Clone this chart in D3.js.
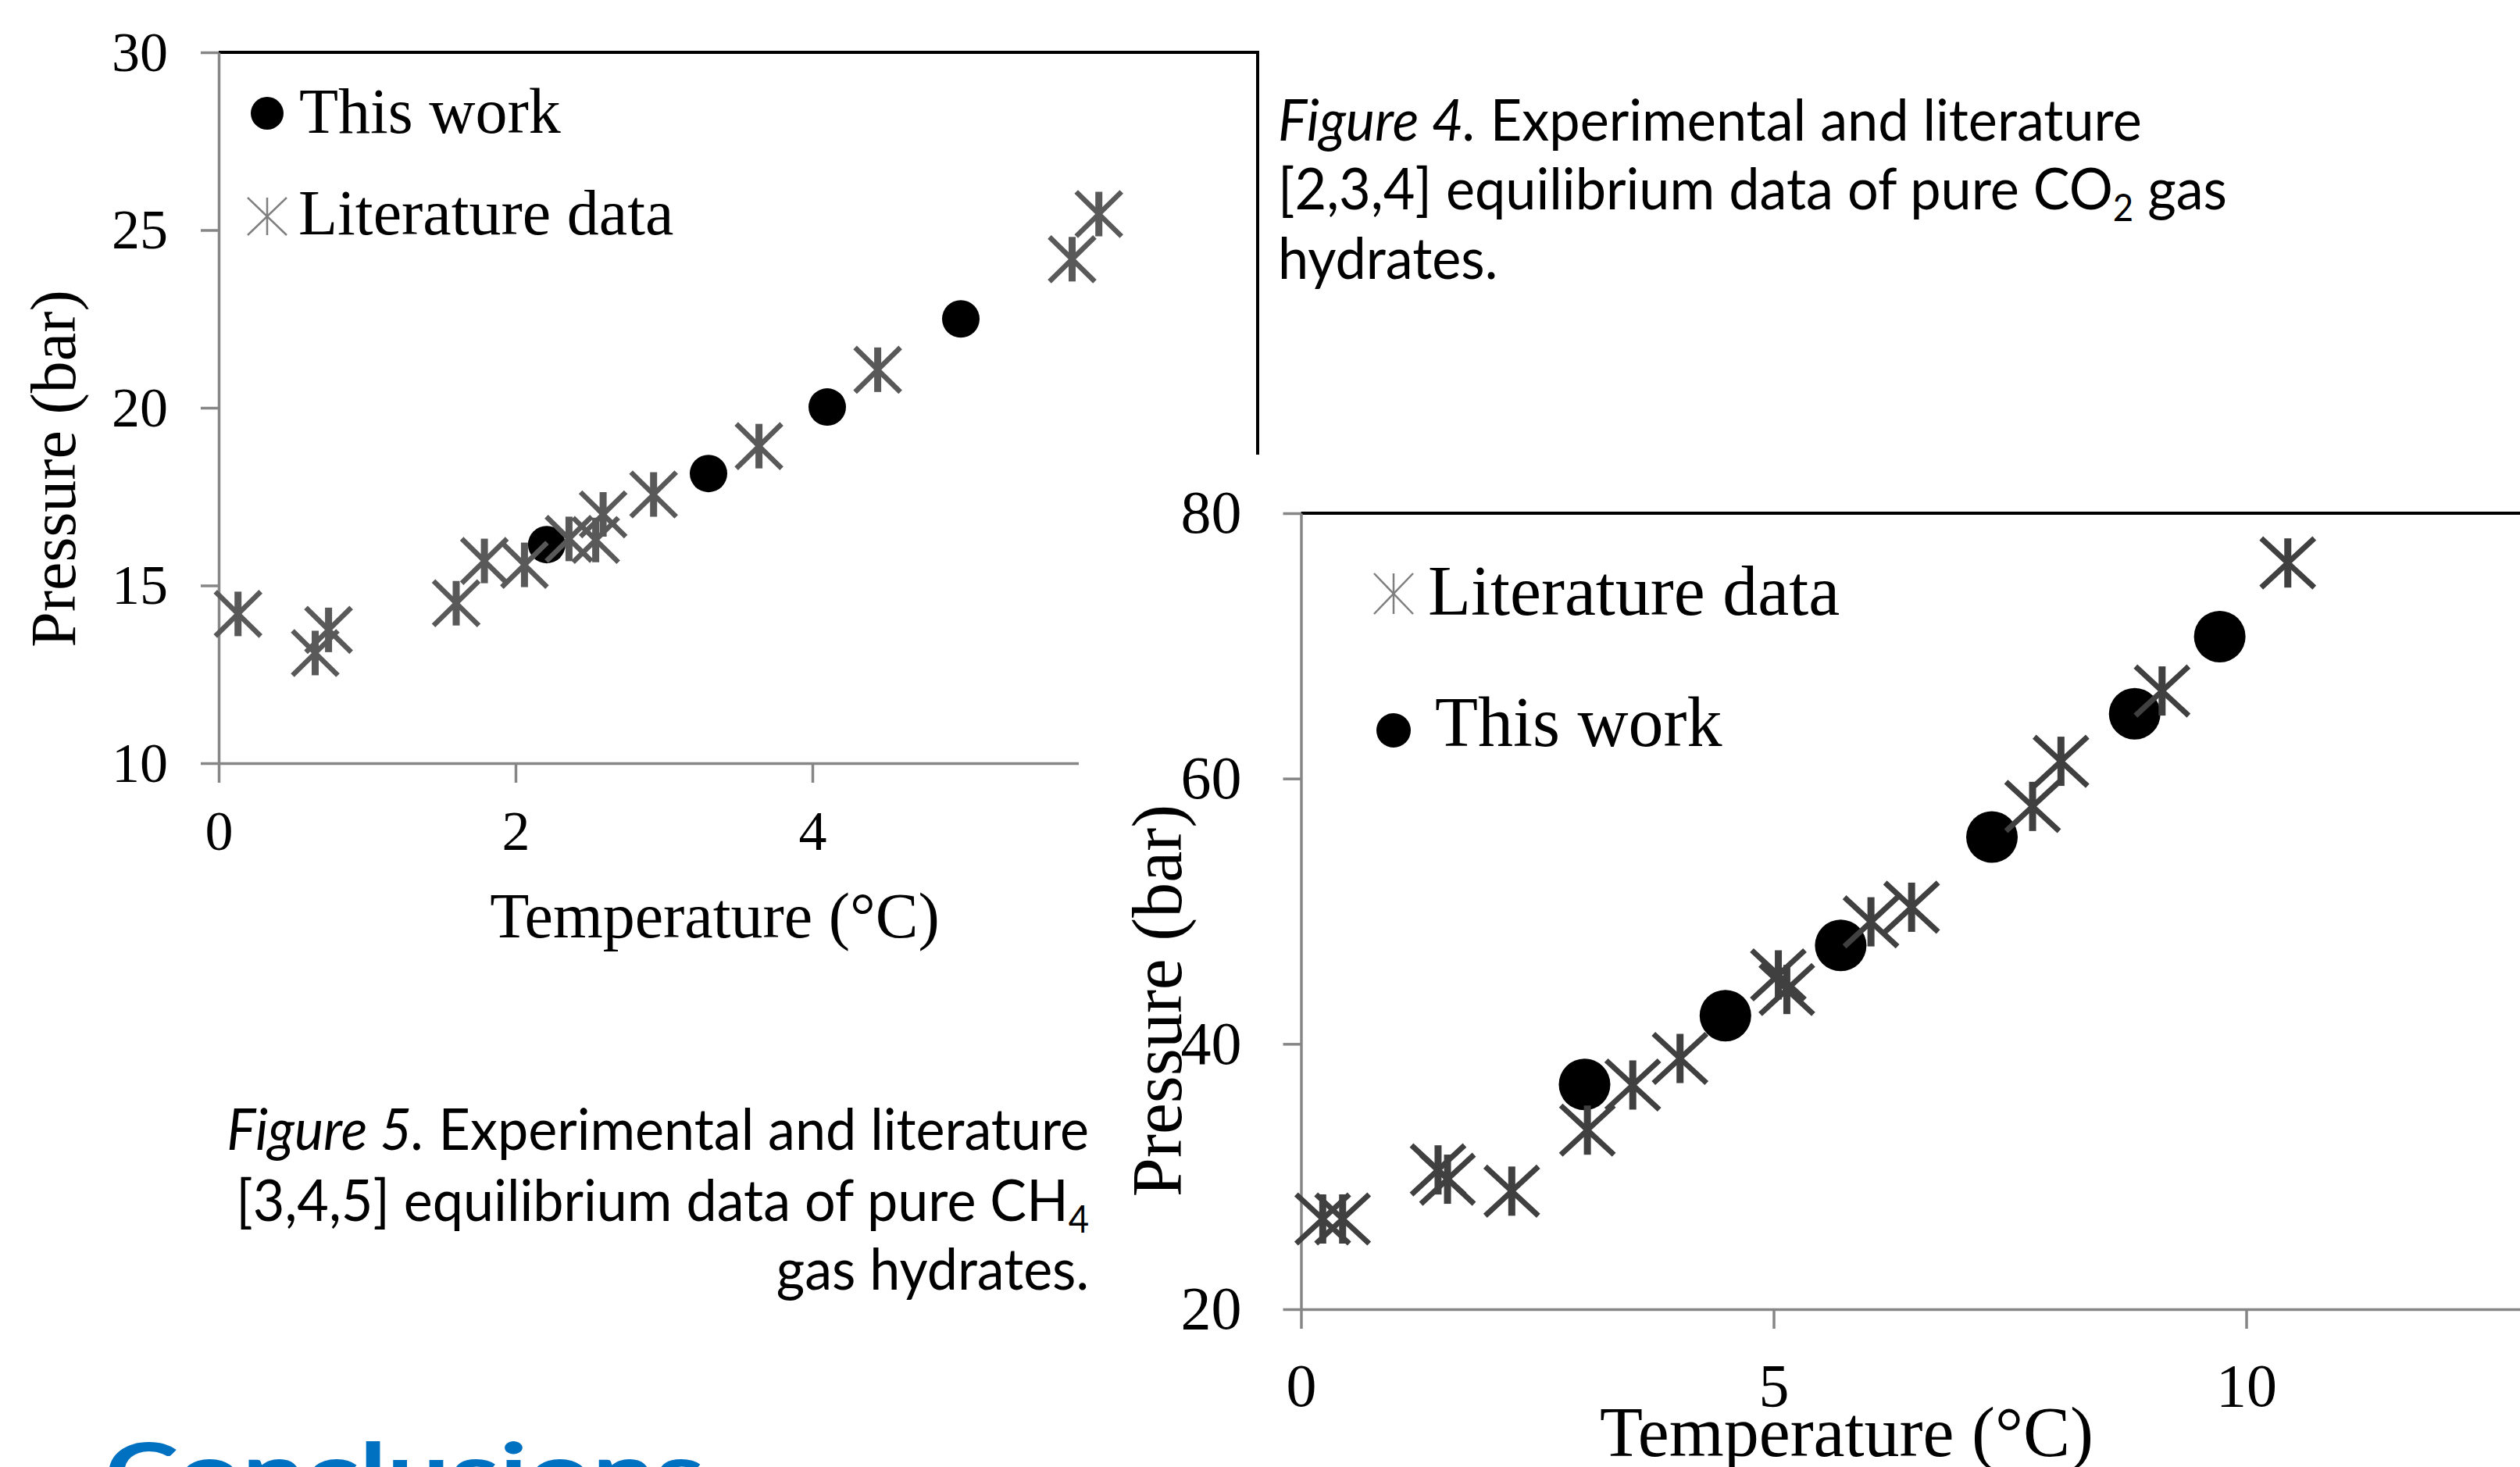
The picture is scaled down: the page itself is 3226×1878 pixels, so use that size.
<!DOCTYPE html>
<html>
<head>
<meta charset="utf-8">
<script src="https://cdn.jsdelivr.net/npm/d3@7"></script>
<style>
body{margin:0;background:#fff}
svg text{font-family:"Liberation Serif","Times New Roman",serif}
</style>
</head>
<body>
<svg id="page" width="3226" height="1878"></svg>
<script>
// Figure 5 - pure CH4 hydrates
var ch4WorkT = [2.21, 3.30, 4.10, 5.00];
var ch4WorkP = [16.15, 18.15, 20.02, 22.5];
var ch4LitT = [0.13, 0.65, 0.74, 1.60, 1.79, 2.06, 2.36, 2.54, 2.59, 2.93, 3.64, 4.44, 5.75, 5.93];
var ch4LitP = [14.2, 13.1, 13.75, 14.5, 15.69, 15.58, 16.31, 16.28, 17.0, 17.56, 18.92, 21.07, 24.18, 25.45];
var ch4XTicks = [0, 2, 4, 6];
var ch4YTicks = [10, 15, 20, 25, 30];

// Figure 4 - pure CO2 hydrates
var co2WorkT = [3.00, 4.49, 5.71, 7.31, 8.82, 9.72];
var co2WorkP = [36.94, 42.13, 47.42, 55.59, 64.88, 70.7];
var co2LitT = [0.23, 0.44, 1.45, 1.55, 2.23, 3.03, 3.51, 4.01, 5.05, 5.14, 6.03, 6.46, 7.74, 8.04, 9.11, 10.44];
var co2LitP = [26.8, 26.8, 30.5, 29.8, 28.9, 33.5, 36.9, 38.9, 45.2, 44.1, 49.2, 50.3, 57.9, 61.3, 66.6, 76.25];
var co2XTicks = [0, 5, 10, 15];
var co2YTicks = [20, 40, 60, 80];

var labelWork = "This work", labelLit = "Literature data";
var xTitle = "Temperature (°C)", yTitle = "Pressure (bar)";

var cap4 = [
  [["Figure 4.", "i"], [" Experimental and literature", ""]],
  [["[2,3,4] equilibrium data of pure CO", ""], ["2", "sub"], [" gas", ""]],
  [["hydrates.", ""]]
];
var cap5 = [
  [["Figure 5.", "i"], [" Experimental and literature", ""]],
  [["[3,4,5] equilibrium data of pure CH", ""], ["4", "sub"]],
  [["gas hydrates.", ""]]
];
var heading = "Conclusions";

var svg = d3.select("#page");
svg.append("rect").attr("width", 3226).attr("height", 1878).attr("fill", "#fff");

// asterisk marker like the spreadsheet one: vertical bar plus an X
function star(s, hx, hy, wv, wx, col) {
  s.append("path")
    .attr("d", "M" + (-hx) + "," + (-hy) + "L" + hx + "," + hy + "M" + (-hx) + "," + hy + "L" + hx + "," + (-hy))
    .attr("stroke", col).attr("stroke-width", wx).attr("fill", "none");
  s.append("path")
    .attr("d", "M0," + (-hy) + "L0," + hy)
    .attr("stroke", col).attr("stroke-width", wv).attr("fill", "none");
}

function drawChart(c) {
  var g = svg.append("g");
  var x = d3.scaleLinear().domain(c.xDomain).range(c.xRange);
  var y = d3.scaleLinear().domain(c.yDomain).range(c.yRange);

  g.append("path")
    .attr("d", "M" + x(c.xDomain[0]) + "," + y(c.yDomain[1]) + "H" + x(c.xDomain[1]) + "V" + y(c.yDomain[0]))
    .attr("fill", "none").attr("stroke", "#000").attr("stroke-width", 4);

  g.append("g").attr("transform", "translate(0," + y(c.yDomain[0]) + ")")
    .call(d3.axisBottom(x).tickValues(c.xTicks).tickFormat(d3.format("d"))
      .tickSize(25).tickSizeOuter(0).tickPadding(c.xPad));
  g.append("g").attr("transform", "translate(" + x(c.xDomain[0]) + ",0)")
    .call(d3.axisLeft(y).tickValues(c.yTicks).tickFormat(d3.format("d"))
      .tickSize(23).tickSizeOuter(0).tickPadding(c.yPad));
  g.selectAll(".domain, .tick line").attr("stroke", "#868686").attr("stroke-width", 3.5);
  g.selectAll(".tick text").attr("font-family", "Liberation Serif").attr("font-size", c.tickFont).attr("fill", "#000");

  g.selectAll("circle.work").data(d3.zip(c.workT, c.workP)).join("circle")
    .attr("class", "work")
    .attr("cx", function(d) { return x(d[0]); })
    .attr("cy", function(d) { return y(d[1]); })
    .attr("r", c.dotR).attr("fill", "#000");

  g.selectAll("g.lit").data(d3.zip(c.litT, c.litP)).join("g")
    .attr("class", "lit")
    .attr("transform", function(d) { return "translate(" + x(d[0]) + "," + y(d[1]) + ")"; })
    .each(function() { star(d3.select(this), c.starHx, c.starHy, c.starWv, c.starWx, c.starCol); });

  // legend
  c.legend.forEach(function(it) {
    if (it.kind == "dot") {
      g.append("circle").attr("cx", it.mx).attr("cy", it.my).attr("r", c.legR).attr("fill", "#000");
    } else {
      var m = g.append("g").attr("transform", "translate(" + it.mx + "," + it.my + ")");
      star(m, c.legHx, c.legHy, 2.5, 2.5, "#7f7f7f");
    }
    g.append("text").attr("x", it.tx).attr("y", it.ty).attr("font-size", c.font).text(it.label);
  });

  g.append("text").attr("x", c.xTitlePos[0]).attr("y", c.xTitlePos[1])
    .attr("text-anchor", "middle").attr("font-size", c.font).text(xTitle);
  g.append("text").attr("transform", "translate(" + c.yTitlePos[0] + "," + c.yTitlePos[1] + ") rotate(-90)")
    .attr("text-anchor", "middle").attr("font-size", c.font).text(yTitle);
}

drawChart({
  xDomain: [0, 7], xRange: [280, 1610], yDomain: [10, 30], yRange: [977, 67],
  xTicks: ch4XTicks, yTicks: ch4YTicks, xPad: 35, yPad: 42, tickFont: 72,
  workT: ch4WorkT, workP: ch4WorkP, litT: ch4LitT, litP: ch4LitP,
  dotR: 24, starHx: 29, starHy: 28.5, starWv: 9, starWx: 6.5, starCol: "#595959",
  legR: 21, legHx: 25, legHy: 24, font: 82,
  legend: [
    {kind: "dot", label: labelWork, mx: 342, my: 145, tx: 383, ty: 170},
    {kind: "star", label: labelLit, mx: 342, my: 277, tx: 382, ty: 300}
  ],
  xTitlePos: [915, 1200], yTitlePos: [96, 600]
});

// second picture pasted over the lower right part of the first one
svg.append("rect").attr("x", 1381).attr("y", 582).attr("width", 3226 - 1381).attr("height", 1878 - 582).attr("fill", "#fff");

drawChart({
  xDomain: [0, 15], xRange: [1665.5, 3480.5], yDomain: [20, 80], yRange: [1676, 657],
  xTicks: co2XTicks, yTicks: co2YTicks, xPad: 44, yPad: 53, tickFont: 78,
  workT: co2WorkT, workP: co2WorkP, litT: co2LitT, litP: co2LitP,
  dotR: 33, starHx: 34, starHy: 31.5, starWv: 9, starWx: 7, starCol: "#404040",
  legR: 22, legHx: 25, legHy: 26, font: 90,
  legend: [
    {kind: "star", label: labelLit, mx: 1784, my: 760, tx: 1828, ty: 787},
    {kind: "dot", label: labelWork, mx: 1784, my: 935, tx: 1837, ty: 955}
  ],
  xTitlePos: [2364, 1864], yTitlePos: [1512, 1281]
});

// captions (Calibri-like, squeezed to the measured line width)
function caption(lines, x, anchor, baselines, width) {
  var g = svg.append("g");
  var texts = lines.map(function(segs, i) {
    var t = g.append("text").attr("x", 0).attr("y", baselines[i]).attr("text-anchor", anchor)
      .style("font-family", "Lato, 'Open Sans', sans-serif").attr("font-size", 74).attr("fill", "#000");
    var shift = 0;
    segs.forEach(function(s) {
      var ts = t.append("tspan").text(s[0]);
      if (s[1] == "i") ts.attr("font-style", "italic");
      if (s[1] == "sub") { ts.attr("font-size", 48).attr("dy", 15); shift = 15; }
      else if (shift) { ts.attr("dy", -shift); shift = 0; }
    });
    return t;
  });
  var k = width / texts[0].node().getComputedTextLength();
  g.attr("transform", "translate(" + x + ",0) scale(" + k + ",1)");
}
caption(cap4, 1636, "start", [180, 268, 357], 1106);
caption(cap5, 1394, "end", [1472, 1563, 1651], 1104);

var hg = svg.append("g");
var ht = hg.append("text").attr("x", 0).attr("y", 1923)
  .style("font-family", "Lato, 'Open Sans', sans-serif").attr("font-weight", 700)
  .attr("font-size", 105).attr("fill", "#0070c0").text(heading);
hg.attr("transform", "translate(134,0) scale(" + (768 / ht.node().getComputedTextLength()) + ",1)");
</script>
</body>
</html>
